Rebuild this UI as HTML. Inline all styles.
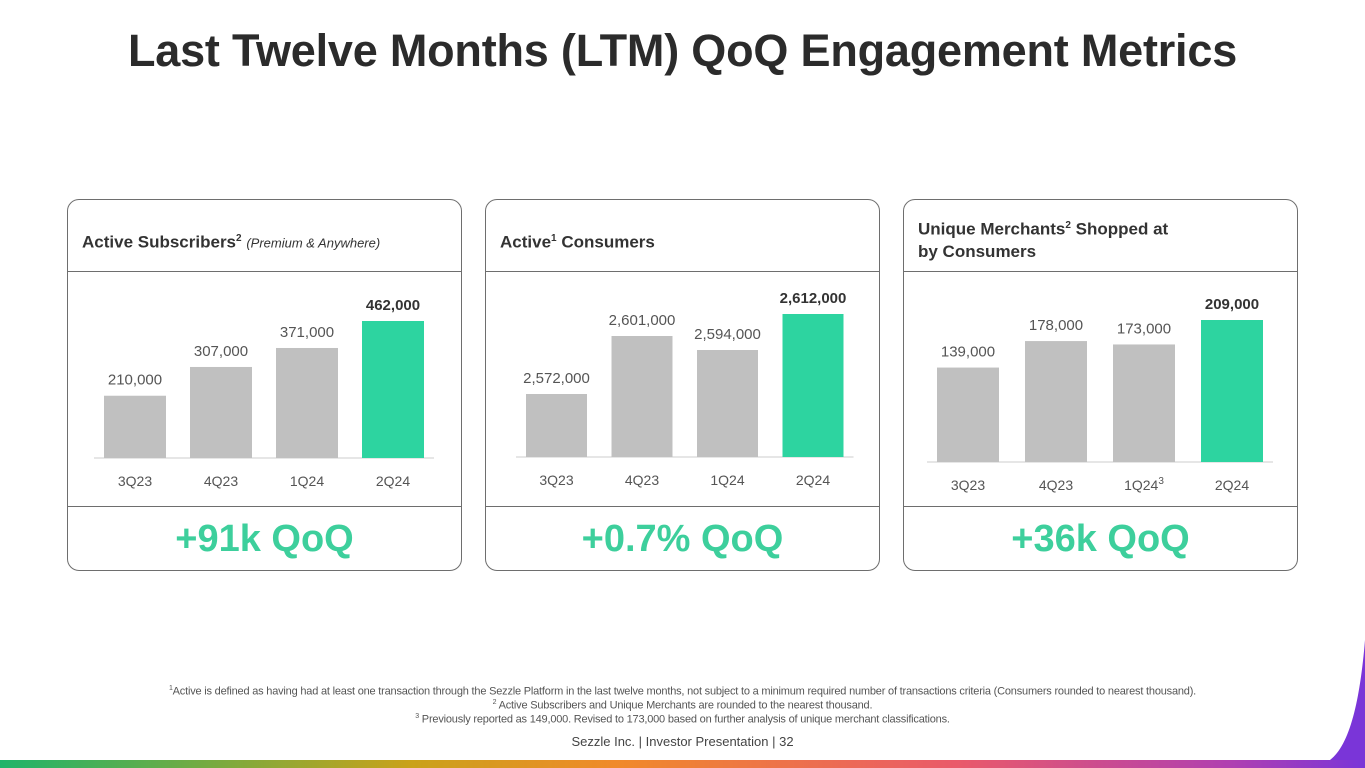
<!DOCTYPE html>
<html><head><meta charset="utf-8"><style>
body{margin:0;width:1365px;height:768px;background:#fff;position:relative;overflow:hidden;font-family:"Liberation Sans",sans-serif;color:#333}
.title{position:absolute;left:0;width:1365px;top:25px;text-align:center;font-size:45px;font-weight:bold;color:#2b2b2b;letter-spacing:-0.2px}
.panel{position:absolute;top:199px;width:395px;height:372px;border:1px solid #6e6e6e;border-radius:12px;box-sizing:border-box}
.hdr{position:absolute;left:0;right:0;top:0;height:71px;border-bottom:1px solid #6e6e6e}
.hdr span{position:absolute;left:14px;font-size:17px;font-weight:bold;color:#333;line-height:22px}
.ftr{position:absolute;left:0;right:0;top:306px;border-top:1px solid #6e6e6e;height:64px;text-align:center;font-size:38px;font-weight:bold;color:#3dcf9c;line-height:64px}
sup{font-size:10px}
.fn{position:absolute;left:0;width:1365px;text-align:center;font-size:11px;color:#555;letter-spacing:-0.2px}
#chart{position:absolute;left:0;top:0}
</style></head><body>
<div class="title">Last Twelve Months (LTM) QoQ Engagement Metrics</div>
<div class="panel" style="left:67px"><div class="hdr"><span style="top:28px">Active Subscribers<sup>2</sup> <i style="font-weight:normal;font-size:13px">(Premium &amp; Anywhere)</i></span></div><div class="ftr">+91k QoQ</div></div>
<div class="panel" style="left:485px"><div class="hdr"><span style="top:28px">Active<sup>1</sup> Consumers</span></div><div class="ftr">+0.7% QoQ</div></div>
<div class="panel" style="left:903px"><div class="hdr"><span style="top:15px">Unique Merchants<sup>2</sup> Shopped at<br>by Consumers</span></div><div class="ftr">+36k QoQ</div></div>
<svg id="chart" width="1365" height="768">
<defs><linearGradient id="bg" x1="0" x2="1"><stop offset="0" stop-color="#1fb46a"/><stop offset="0.3" stop-color="#c9a21a"/><stop offset="0.45" stop-color="#f08a2a"/><stop offset="0.7" stop-color="#ea5a6a"/><stop offset="0.9" stop-color="#b040b0"/><stop offset="1" stop-color="#7a35d8"/></linearGradient></defs>
<rect x="0" y="760" width="1365" height="8" fill="url(#bg)"/>
<path d="M1365 640 C1360 700 1350 745 1330 760 L1365 760 Z" fill="#7a35d8"/>
</svg>
<div class="fn" style="top:685px"><sup style="font-size:7px">1</sup>Active is defined as having had at least one transaction through the Sezzle Platform in the last twelve months, not subject to a minimum required number of transactions criteria (Consumers rounded to nearest thousand).</div>
<div class="fn" style="top:699px"><sup style="font-size:7px">2</sup> Active Subscribers and Unique Merchants are rounded to the nearest thousand.</div>
<div class="fn" style="top:713px"><sup style="font-size:7px">3</sup> Previously reported as 149,000. Revised to 173,000 based on further analysis of unique merchant classifications.</div>
<div class="fn" style="top:734px;font-size:13px;color:#444;letter-spacing:0">Sezzle Inc. | Investor Presentation | 32</div>
<script>
const categories=["3Q23","4Q23","1Q24","2Q24"];
const subscribers=[210000,307000,371000,462000];
const consumers=[2572000,2601000,2594000,2612000];
const merchants=[139000,178000,173000,209000];
const labelsSubs=["210,000","307,000","371,000","462,000"];
const labelsCons=["2,572,000","2,601,000","2,594,000","2,612,000"];
const labelsMerch=["139,000","178,000","173,000","209,000"];
const svg=document.getElementById('chart');
const NS="http://www.w3.org/2000/svg";
function mk(t,a){const e=document.createElementNS(NS,t);for(const k in a)e.setAttribute(k,a[k]);svg.appendChild(e);return e;}
function drawPanel(vals,labels,cfg,name){
  const y=v=>cfg.base-(v-cfg.min)/(cfg.max-cfg.min)*cfg.h;
  const x=i=>cfg.x0+i*cfg.step;
  const ax=mk('line',{x1:cfg.x0-10,x2:x(3)+cfg.w+10,y1:cfg.base,y2:cfg.base,stroke:'#ddd','stroke-width':1.5});
  
  
  vals.forEach((v,i)=>{
    const last=i===vals.length-1;
    const r=mk('rect',{x:x(i),y:y(v),width:cfg.w,height:cfg.base-y(v),fill:last?'#2dd4a0':'#c0c0c0'});
    
    
    const t=mk('text',{x:x(i)+cfg.w/2,y:y(v)-11,'text-anchor':'middle','font-size':15,fill:last?'#333':'#555','font-weight':last?'bold':'normal','font-family':'Liberation Sans, sans-serif'});
    t.textContent=labels[i];
    
    
    const c=mk('text',{x:x(i)+cfg.w/2,y:cfg.base+28,'text-anchor':'middle','font-size':14,fill:'#555','font-family':'Liberation Sans, sans-serif'});
    c.textContent=categories[i];
    if(cfg.sup===i){const s=document.createElementNS(NS,'tspan');s.setAttribute('dy','-6');s.setAttribute('font-size','10');s.textContent='3';c.appendChild(s);}
    
    
  });
}
drawPanel(subscribers,labelsSubs,{base:458,min:0,max:462000,h:137,x0:104,step:86,w:62},'subscribers');
drawPanel(consumers,labelsCons,{base:457,min:2540500,max:2612000,h:143,x0:526,step:85.5,w:61},'consumers');
drawPanel(merchants,labelsMerch,{base:462,min:0,max:209000,h:142,x0:937,step:88,w:62,sup:2},'merchants');
</script>
</body></html>
